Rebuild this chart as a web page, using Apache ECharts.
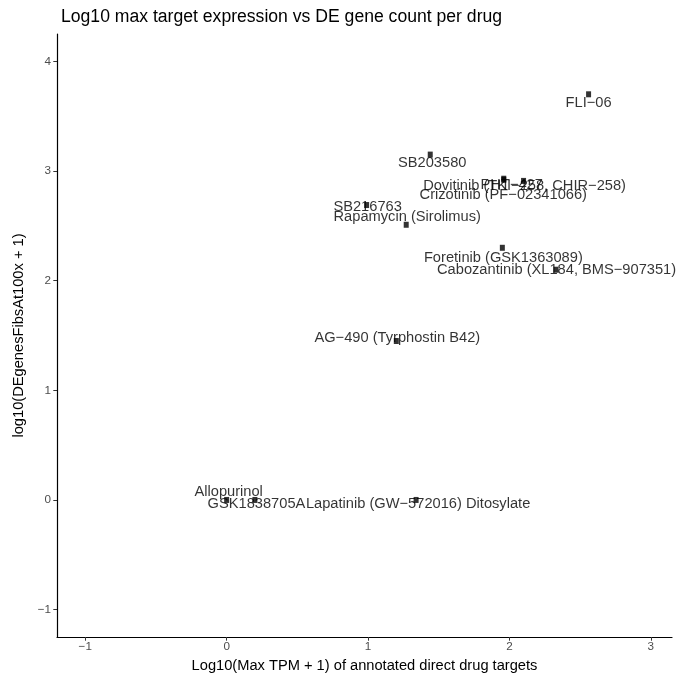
<!DOCTYPE html>
<html>
<head>
<meta charset="utf-8">
<script src="https://cdn.jsdelivr.net/npm/echarts@6/dist/echarts.min.js"></script>
<style>
html,body{margin:0;padding:0;background:#fff;}
#chart{width:678px;height:678px;}
</style>
</head>
<body>
<div id="chart"></div>
<script>
// ---- data ----
const drugNames = [
  "Allopurinol", "GSK1838705A", "Lapatinib (GW\u2212572016) Ditosylate",
  "AG\u2212490 (Tyrphostin B42)", "SB216763", "Rapamycin (Sirolimus)",
  "Foretinib (GSK1363089)", "Cabozantinib (XL184, BMS\u2212907351)",
  "Crizotinib (PF\u221202341066)", "PHT\u2212427", "Dovitinib (TKI\u2212258, CHIR\u2212258)",
  "SB203580", "FLI\u221206"
];
const maxTargetTPM = [0.00, 0.20, 1.34, 1.20, 0.99, 1.27, 1.95, 2.33, 1.96, 1.96, 2.10, 1.44, 2.56];
const deGeneCount  = [0.00, 0.00, 0.00, 1.45, 2.69, 2.51, 2.30, 2.10, 2.92, 2.93, 2.91, 3.15, 3.70];
const xTicks = [-1, 0, 1, 2, 3];
const yTicks = [-1, 0, 1, 2, 3, 4];

// label placement (style only, in pixels)
const labelDx = [2, 1.5, 2, 1, 1, 1, 1, 0.5, -0.5, 8, 1, 2, 0];
const labelDy = [-8, 4, 4, -3, 2, -8, 10, 0, 15, 6, 5, 8, 9];

const FONT = "'Liberation Sans', Arial, Helvetica, sans-serif";
const minus = v => String(v).replace('-', '\u2212');

const labelData = drugNames.map((n, i) => ({
  name: n,
  value: [maxTargetTPM[i], deGeneCount[i]],
  label: { offset: [labelDx[i], labelDy[i]] }
}));
const pointData = drugNames.map((n, i) => ({
  name: n,
  value: [maxTargetTPM[i], deGeneCount[i]]
}));

const chart = echarts.init(document.getElementById('chart'), null, { renderer: 'canvas' });
chart.setOption({
  animation: false,
  backgroundColor: '#ffffff',
  title: {
    text: 'Log10 max target expression vs DE gene count per drug',
    left: 56, top: 3,
    textStyle: { fontFamily: FONT, fontWeight: 'normal', fontSize: 17.6, color: '#000' }
  },
  grid: { left: 57, right: 6, top: 34, bottom: 41 },
  xAxis: {
    type: 'value', min: -1.2, max: 3.15,
    name: 'Log10(Max TPM + 1) of annotated direct drug targets',
    nameLocation: 'middle', nameGap: 21,
    nameTextStyle: { fontFamily: FONT, fontSize: 14.67, color: '#000' },
    splitLine: { show: false },
    axisLine: { show: true, onZero: false, lineStyle: { color: '#000', width: 1.2 } },
    axisTick: { show: true, customValues: xTicks, length: 3.7, lineStyle: { color: '#333', width: 1 } },
    axisLabel: { customValues: xTicks, formatter: minus, fontFamily: FONT, fontSize: 11.7, color: '#4d4d4d', margin: 4 }
  },
  yAxis: {
    type: 'value', min: -1.25, max: 4.25,
    name: 'log10(DEgenesFibsAt100x + 1)',
    nameLocation: 'middle', nameGap: 27, nameRotate: 90,
    nameTextStyle: { fontFamily: FONT, fontSize: 14.67, color: '#000' },
    splitLine: { show: false },
    axisLine: { show: true, onZero: false, lineStyle: { color: '#000', width: 1.2 } },
    axisTick: { show: true, customValues: yTicks, length: 3.7, lineStyle: { color: '#333', width: 1 } },
    axisLabel: { customValues: yTicks, formatter: minus, fontFamily: FONT, fontSize: 11.7, color: '#4d4d4d', margin: 6 }
  },
  series: [{
    type: 'scatter',
    z: 2,
    symbol: 'rect',
    symbolSize: 1,
    itemStyle: { color: 'rgba(0,0,0,0)' },
    data: labelData,
    label: {
      show: true,
      position: 'inside',
      formatter: p => p.name,
      fontFamily: FONT,
      fontSize: 14.67,
      color: '#000'
    },
    silent: true,
    emphasis: { disabled: true }
  }, {
    type: 'scatter',
    z: 5,
    symbol: 'rect',
    symbolSize: [5, 6],
    itemStyle: { color: '#000' },
    data: pointData,
    label: { show: false },
    emphasis: { disabled: true }
  }]
});
</script>
</body>
</html>
